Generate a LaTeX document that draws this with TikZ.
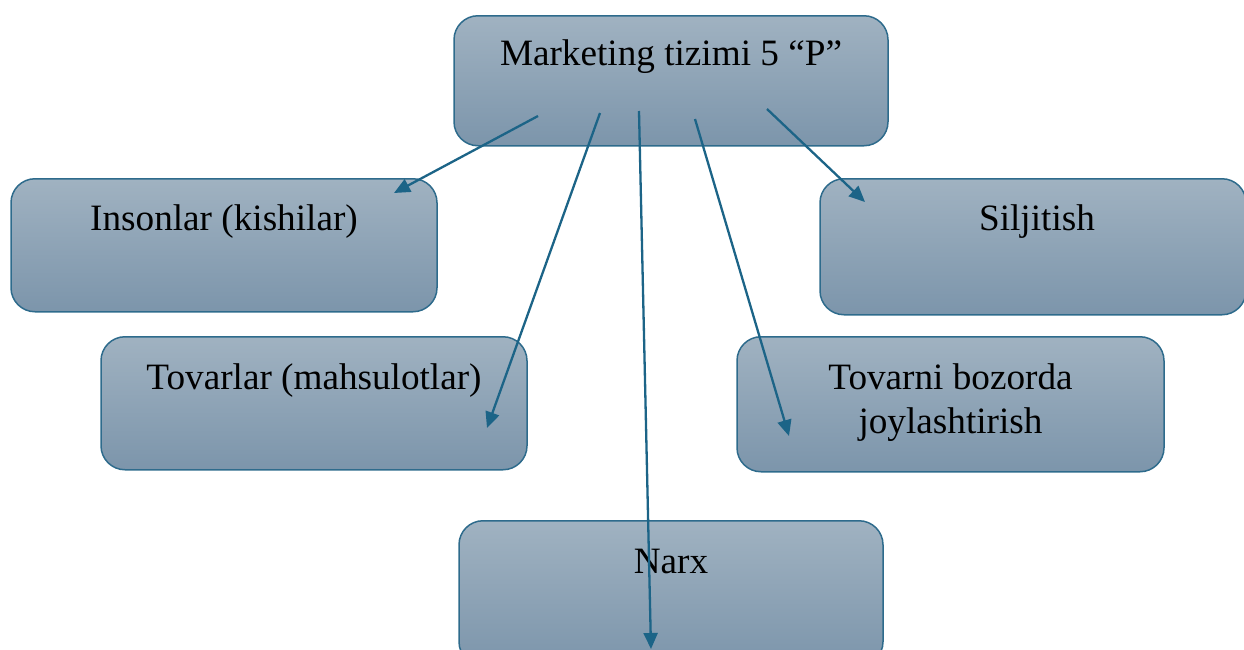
\documentclass[tikz,border=0pt]{standalone}
\usepackage{fontspec}
\setmainfont{Liberation Serif}
\usetikzlibrary{arrows.meta,shadings}
\definecolor{boxtop}{HTML}{A0B2C1}
\definecolor{boxbot}{HTML}{7C95AB}
\definecolor{boxborder}{HTML}{2E6B8C}
\definecolor{arrowcol}{HTML}{1C6487}
\tikzset{
  pbox/.style={draw=boxborder, line width=0.75pt, rounded corners=12pt,
    top color=boxtop, bottom color=boxbot, inner sep=0pt, anchor=north,
    font=\fontsize{18.6}{22}\selectfont},
  parrow/.style={draw=arrowcol, line width=1.15pt, -{Triangle[length=8pt,width=7pt]}}
}
\begin{document}
\begin{tikzpicture}[x=0.5pt,y=-0.5pt]
\useasboundingbox (0,0) rectangle (1244,649);
\clip (0,0) rectangle (1244,649);
\node[pbox, minimum width=217pt, text height=25pt, text depth=40pt] (top) at (671,15) {Marketing tizimi 5 “P”};
\node[pbox, minimum width=213pt, text height=26pt, text depth=40.5pt] (ins) at (224,178) {Insonlar (kishilar)};
\node[pbox, minimum width=213pt, text height=26pt, text depth=42pt] (sil) at (1033,178) {\hspace*{4pt}Siljitish};
\node[pbox, minimum width=213pt, text height=26.5pt, text depth=40pt] (tov) at (314,336) {Tovarlar (mahsulotlar)};
\node[pbox, minimum width=213.5pt, text height=26.5pt, text depth=41pt] (joy) at (950.5,336) {\begin{tabular}[t]{@{}c@{}}Tovarni bozorda\\joylashtirish\end{tabular}};
\node[pbox, minimum width=212pt, text height=26.5pt, text depth=46pt] (narx) at (671,520) {Narx};
\coordinate (s1) at (538,116); \coordinate (e1) at (394,193);
\coordinate (s2) at (600,113); \coordinate (e2) at (487,428);
\coordinate (s3) at (639,111); \coordinate (e3) at (651,649);
\coordinate (s4) at (695,119); \coordinate (e4) at (789,436);
\coordinate (s5) at (767,109); \coordinate (e5) at (865,202);
\draw[parrow] (s1) -- (e1);
\draw[parrow] (s2) -- (e2);
\draw[parrow] (s3) -- (e3);
\draw[parrow] (s4) -- (e4);
\draw[parrow] (s5) -- (e5);
\end{tikzpicture}
\end{document}
